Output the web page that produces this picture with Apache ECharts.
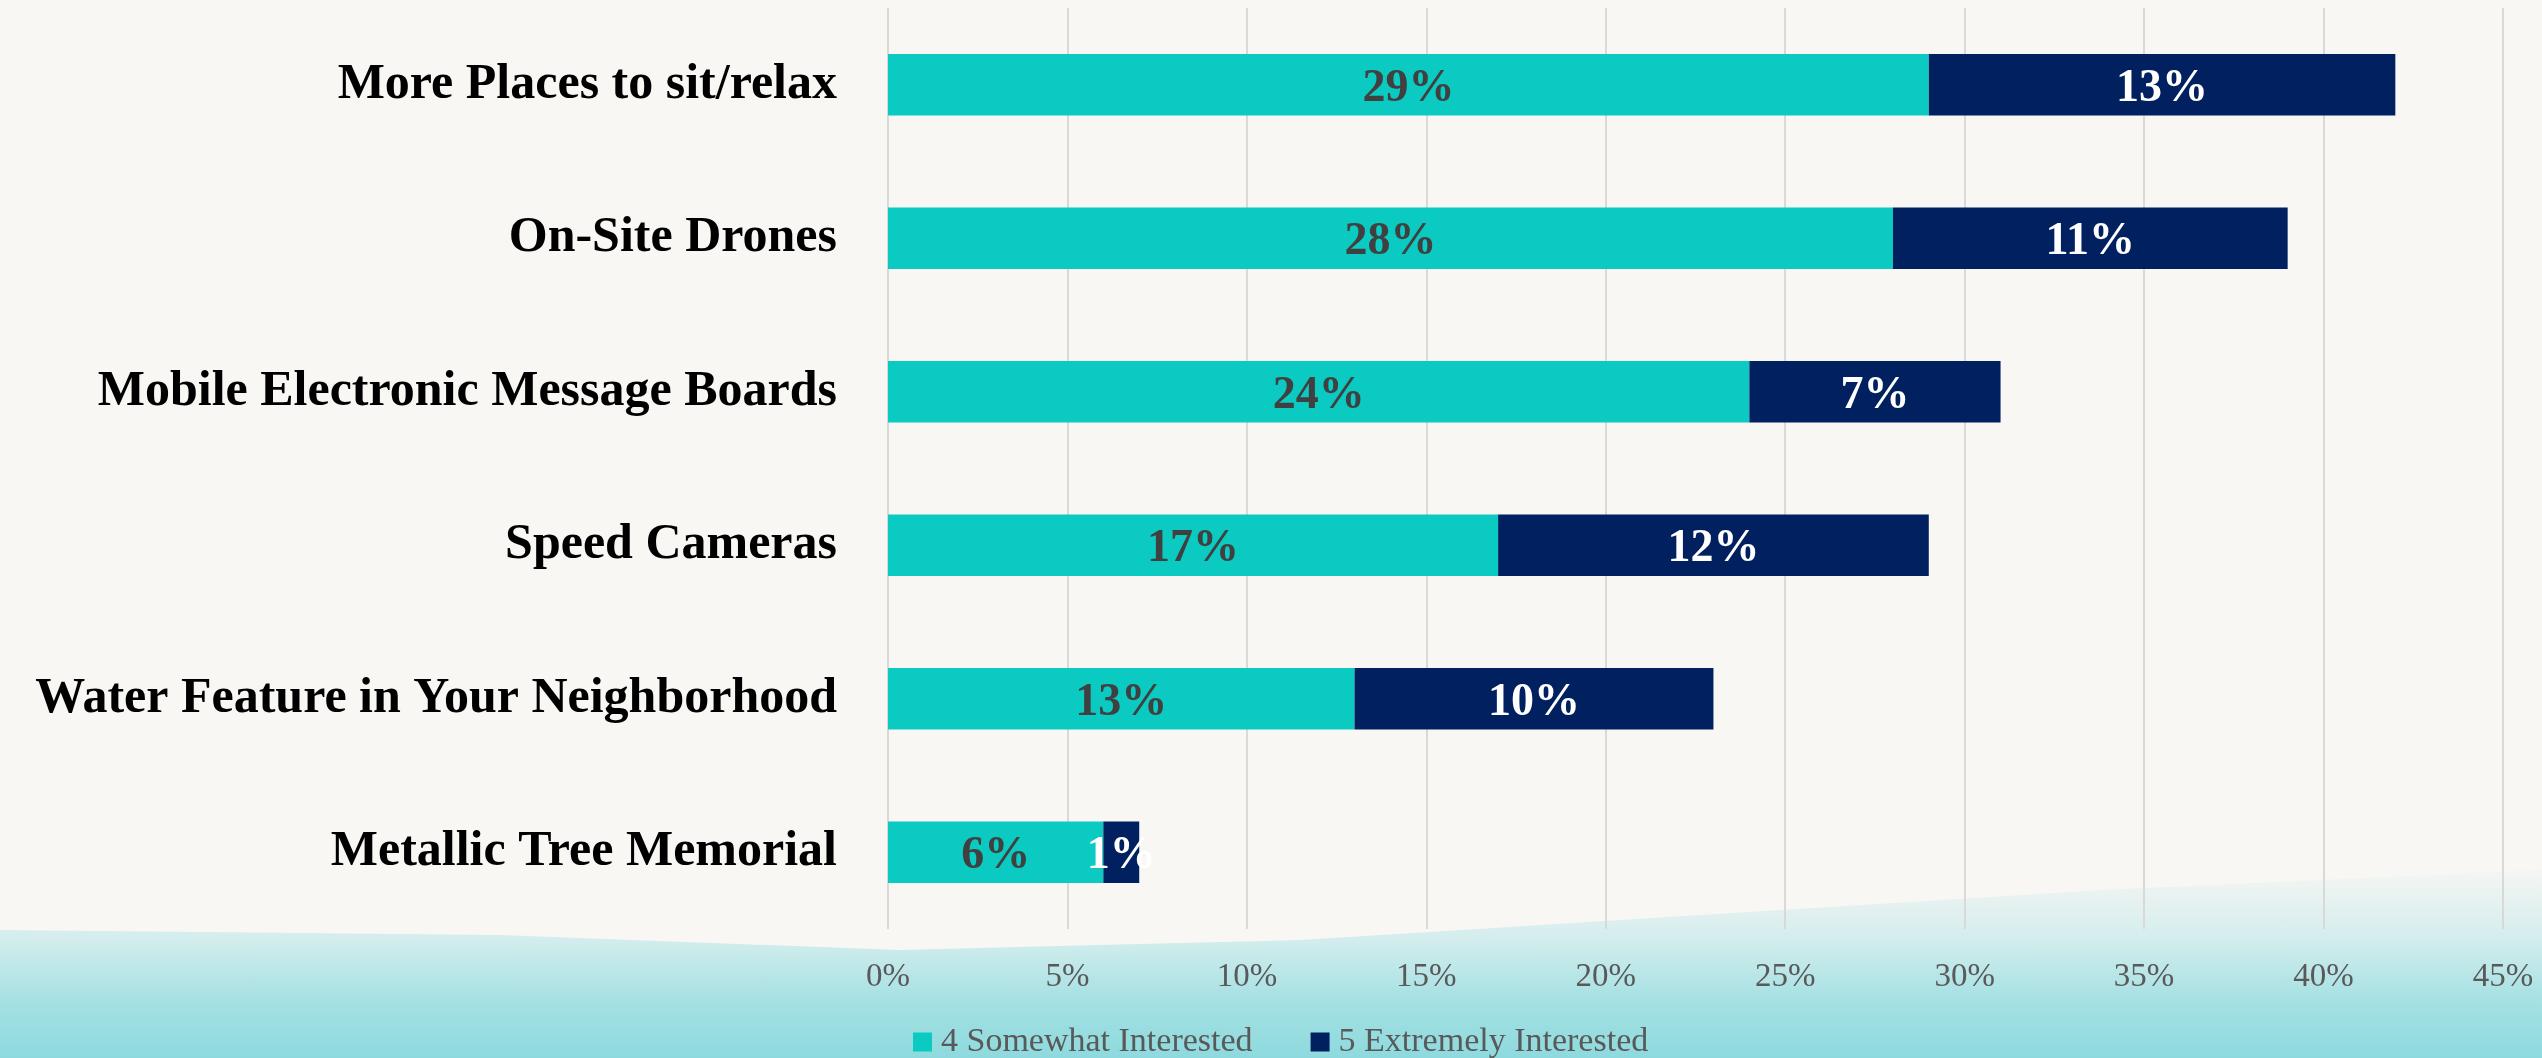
<!DOCTYPE html>
<html>
<head>
<meta charset="utf-8">
<script src="https://cdn.jsdelivr.net/npm/echarts@6/dist/echarts.min.js"></script>
<style>
html,body{margin:0;padding:0;width:2542px;height:1058px;overflow:hidden;background:#f9f7f4;}
#bg{position:absolute;left:0;top:0;width:2542px;height:1058px;
 background:linear-gradient(180deg, rgba(150,220,226,0.0) 860px, rgba(140,218,224,0.35) 940px, rgba(110,210,216,0.6) 1000px, rgba(105,208,214,0.75) 1058px);
 clip-path:polygon(0 930px, 500px 935px, 900px 950px, 1300px 940px, 1700px 915px, 2100px 890px, 2542px 870px, 2542px 1058px, 0 1058px);}
#chart{position:absolute;left:0;top:0;width:2542px;height:1058px;}
</style>
</head>
<body>
<div id="bg"></div>
<div id="chart"></div>
<script>
const categories = ["Metallic Tree Memorial","Water Feature in Your Neighborhood","Speed Cameras","Mobile Electronic Message Boards","On-Site Drones","More Places to sit/relax"];
const somewhat = [6, 13, 17, 24, 28, 29];
const extremely = [1, 10, 12, 7, 11, 13];
const seriesNames = ["4 Somewhat Interested","5 Extremely Interested"];
const xTicks = {min:0, max:45, interval:5};

const chart = echarts.init(document.getElementById('chart'), null, {renderer:'canvas'});
const serif = '"Liberation Serif", "DejaVu Serif", serif';
chart.setOption({
  backgroundColor: 'transparent',
  animation: false,
  grid: {left: 888, right: 39, top: 8, bottom: 129, containLabel: false},
  legend: {
    data: seriesNames, left: 908, top: 1020, itemWidth: 19, itemHeight: 19, itemGap: 58,
    icon: 'rect',
    textStyle: {fontFamily: serif, fontSize: 34, color: '#595959', padding: [0,0,0,4]}
  },
  xAxis: {
    type: 'value', min: xTicks.min, max: xTicks.max, interval: xTicks.interval,
    axisLine: {show: false}, axisTick: {show: false},
    splitLine: {show: true, lineStyle: {color: '#d9d9d9', width: 2}},
    axisLabel: {formatter: v => v + '%', fontFamily: serif, fontSize: 33, color: '#595959', margin: 32}
  },
  yAxis: {
    type: 'category', data: categories,
    axisLine: {show: false}, axisTick: {show: false},
    axisLabel: {fontFamily: serif, fontSize: 50, fontWeight: 'bold', color: '#000000', margin: 51, padding: [6,0,0,0]}
  },
  series: [
    {name: seriesNames[0], type: 'bar', stack: 'a', data: somewhat, barWidth: '40%',
     itemStyle: {color: '#0ACAC2'},
     label: {show: true, position: 'inside', offset: [0, 4], formatter: p => p.value + '%', fontFamily: serif, fontSize: 46, fontWeight: 'bold', color: '#404040'}},
    {name: seriesNames[1], type: 'bar', stack: 'a', data: extremely, barWidth: '40%',
     itemStyle: {color: '#002060'},
     label: {show: true, position: 'inside', offset: [0, 4], formatter: p => p.value + '%', fontFamily: serif, fontSize: 46, fontWeight: 'bold', color: '#ffffff'}}
  ]
});
</script>
</body>
</html>
